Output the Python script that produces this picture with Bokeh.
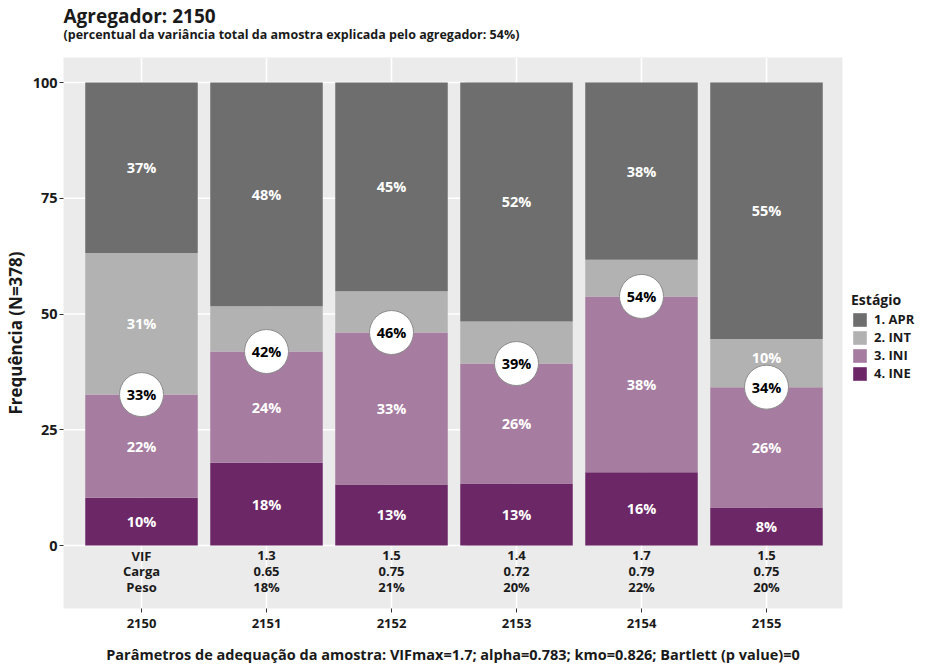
from bokeh.plotting import figure
from bokeh.models import Range1d, FixedTicker, Legend, LegendItem, Title
from bokeh.core.properties import value
from bokeh.embed import file_html
from bokeh.resources import INLINE

# ---------------- data ----------------
categories = ["2150", "2151", "2152", "2153", "2154", "2155"]
stages = ["1. APR", "2. INT", "3. INI", "4. INE"]
ine = [10.3, 17.9, 13.2, 13.4, 15.8, 8.2]
ini = [22.3, 24.0, 32.8, 25.9, 38.0, 26.0]
intr = [30.6, 9.8, 8.9, 9.1, 7.9, 10.4]
apr = [36.8, 48.3, 45.1, 51.6, 38.3, 55.4]
row_names = ["VIF", "Carga", "Peso"]
vif = [None, 1.3, 1.5, 1.4, 1.7, 1.5]
carga = [None, 0.65, 0.75, 0.72, 0.79, 0.75]
peso = [None, 18, 21, 20, 22, 20]
y_ticks = [0, 25, 50, 75, 100]
title_text = "Agregador: 2150"
subtitle_text = "(percentual da variância total da amostra explicada pelo agregador: 54%)"
caption_text = "Parâmetros de adequação da amostra: VIFmax=1.7; alpha=0.783; kmo=0.826; Bartlett (p value)=0"
y_title = "Frequência (N=378)"
legend_title = "Estágio"

# ---------------- style ----------------
FONT = "Open Sans"
COLORS = {"1. APR": "#6E6E6E", "2. INT": "#B2B2B2", "3. INI": "#A67CA1", "4. INE": "#6C2767"}
PANEL = "#EBEBEB"
TXT = "#1A1A1A"
BAR_W = 0.9
CIRCLE_CLEAR = 5.0
NUDGE = 6.4
GRID_END = 3.59
X0, X1 = 0.376, 6.608

xs = [i + 1 for i in range(len(categories))]
series = {"4. INE": ine, "3. INI": ini, "2. INT": intr, "1. APR": apr}
order = ["4. INE", "3. INI", "2. INT", "1. APR"]
cum = [a + b for a, b in zip(ine, ini)]

p = figure(frame_width=779, frame_height=551, output_backend="svg", toolbar_location=None,
           x_range=Range1d(X0, X1), y_range=Range1d(-13.6, 105.4),
           min_border_left=0, min_border_right=0, min_border_top=0, min_border_bottom=0,
           background_fill_color=PANEL, border_fill_color="white")
p.outline_line_color = None

# grids
p.xgrid.grid_line_color = "white"
p.xgrid.grid_line_width = 1.6
p.ygrid.grid_line_color = None
p.segment(x0=[X0] * len(y_ticks), y0=y_ticks, x1=[GRID_END] * len(y_ticks), y1=y_ticks,
          line_color="white", line_width=1.6)

# bars
bottoms = [0.0] * len(xs)
renderers = {}
lab_x, lab_y, lab_t = [], [], []
for s in order:
    vals = series[s]
    tops = [b + v for b, v in zip(bottoms, vals)]
    r = p.vbar(x=xs, bottom=bottoms, top=tops, width=BAR_W, fill_color=COLORS[s], line_color=None)
    renderers[s] = r
    for i, (x, b, v) in enumerate(zip(xs, bottoms, vals)):
        mid = b + v / 2
        if abs(mid - cum[i]) > CIRCLE_CLEAR:
            if mid > cum[i]:
                mid = max(mid, cum[i] + NUDGE)
            lab_x.append(x)
            lab_y.append(mid)
            lab_t.append(f"{round(v)}%")
    bottoms = tops

p.text(x=lab_x, y=lab_y, text=lab_t, text_color="white", text_font=value(FONT),
       text_font_style="bold", text_font_size="14.5px", text_align="center", text_baseline="middle")

# cumulative circles (INE + INI)
p.scatter(x=xs, y=cum, marker="circle", size=44, fill_color="white", line_color="#8C8C8C", line_width=1)
p.text(x=xs, y=cum, text=[f"{round(c)}%" for c in cum], text_color="black", text_font=value(FONT),
       text_font_style="bold", text_font_size="14.5px", text_align="center", text_baseline="middle")

# info rows under bars
rows = []
for i in range(len(xs)):
    if vif[i] is None:
        rows.append(row_names)
    else:
        rows.append([f"{vif[i]}", f"{carga[i]:.2f}", f"{peso[i]}%"])
for k, off in enumerate([10, 25.5, 41]):
    p.text(x=xs, y=[0] * len(xs), text=[r[k] for r in rows], y_offset=off, text_color=TXT,
           text_font=value(FONT), text_font_style="bold", text_font_size="13px",
           text_align="center", text_baseline="middle")

# axes
p.xaxis.ticker = FixedTicker(ticks=xs)
p.xaxis.major_label_overrides = {x: c for x, c in zip(xs, categories)}
p.yaxis.ticker = FixedTicker(ticks=y_ticks)
for ax in (p.xaxis[0], p.yaxis[0]):
    ax.axis_line_color = None
    ax.major_tick_line_color = "#333333"
    ax.major_tick_in = 0
    ax.major_tick_out = 4
    ax.minor_tick_line_color = None
    ax.major_label_text_font = FONT
    ax.major_label_text_font_style = "bold"
    ax.major_label_text_color = TXT
    ax.axis_label_text_font = FONT
    ax.axis_label_text_font_style = "bold"
    ax.axis_label_text_color = TXT
p.xaxis.major_label_text_font_size = "13px"
p.yaxis.major_label_text_font_size = "14.5px"
p.xaxis.axis_label = caption_text
p.xaxis.axis_label_text_font_size = "14.5px"
p.xaxis.axis_label_standoff = 14
p.xaxis.major_label_standoff = 6
p.yaxis.axis_label = y_title
p.yaxis.axis_label_text_font_size = "17px"
p.yaxis.axis_label_standoff = 3
p.yaxis.major_label_standoff = 2

# titles (first added sits next to the frame)
spacer = Title(text=" ", text_font=FONT, text_font_size="1px", standoff=7)
sub = Title(text=subtitle_text, text_font=FONT, text_font_style="bold", text_font_size="12.5px",
            text_color=TXT, align="left", vertical_align="top", standoff=0)
try:
    sub.standoff = -6
    spacer.standoff = 13
except Exception:
    pass
p.add_layout(spacer, "above")
p.add_layout(sub, "above")
p.add_layout(Title(text=title_text, text_font=FONT, text_font_style="bold", text_font_size="19px",
                   text_color=TXT, align="left", vertical_align="bottom", standoff=0), "above")

# legend
items = [LegendItem(label=s, renderers=[renderers[s]]) for s in stages]
leg = Legend(items=items, title=legend_title, location=(9, 226),
             title_text_font=FONT, title_text_font_style="bold", title_text_font_size="14px",
             title_text_color=TXT, title_standoff=1,
             label_text_font=FONT, label_text_font_style="bold", label_text_font_size="13px",
             label_text_color=TXT, glyph_width=17, glyph_height=17, label_height=17,
             label_standoff=6, spacing=0, padding=0, margin=0, border_line_color=None,
             background_fill_alpha=0)
p.add_layout(leg, "right")

open("out.html", "w").write(file_html(p, INLINE))
